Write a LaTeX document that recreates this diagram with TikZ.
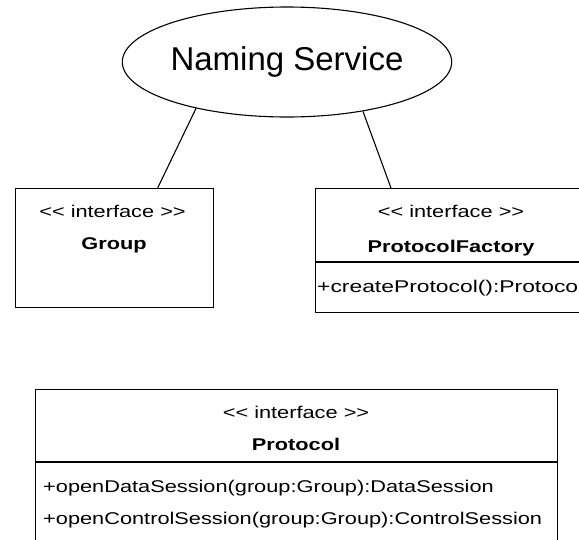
\documentclass[tikz,border=0pt]{standalone}
\usepackage{fontspec}
\setmainfont{Liberation Sans}
\newfontfamily\umlfont[FakeStretch=1.28]{Liberation Sans}
\usetikzlibrary{shapes.geometric}

\tikzset{
  x=1pt, y=-1pt,
  edge/.style={line width=1.1pt, black},
  classbox/.style={draw, line width=1.3pt, rectangle, inner sep=0pt, anchor=north west},
  stereo/.style={inner sep=0pt, font=\umlfont\fontsize{17}{20}\selectfont},
  cname/.style={inner sep=0pt, font=\umlfont\bfseries\fontsize{17}{20}\selectfont},
  oper/.style={inner sep=0pt, anchor=west, font=\umlfont\fontsize{17}{20}\selectfont},
}

\begin{document}
\begin{tikzpicture}
  \useasboundingbox (0,0) rectangle (579,539);
  \clip (0,0) rectangle (579,539);
  \fill[white] (0,0) rectangle (579,539);

  % naming service
  \node[draw, ellipse, line width=1.1pt, minimum width=316pt, minimum height=110pt,
        inner sep=0pt, font=\fontsize{33}{36}\selectfont] (ns) at (287,62) {Naming Service};

  % interface Group
  \node[classbox, minimum width=198pt, minimum height=119pt] (grp) at (15,188) {};
  \node[stereo] (grpst) at (112.5,211) {<< interface >>};
  \node[cname] (grpnm) at (114,245) {Group};

  % interface ProtocolFactory (runs past the right edge)
  \node[classbox, minimum width=290pt, minimum height=124pt] (pf) at (315,188) {};
  \node[stereo] (pfst) at (451,211) {<< interface >>};
  \node[cname] (pfnm) at (451,248) {ProtocolFactory};
  \draw[line width=1.3pt] (pf.west |- 0,262) coordinate (pfsl) -- (pf.east |- 0,262) coordinate (pfsr);
  \node[oper, xscale=1.05, anchor=west] (pfop) at (317,288) {+createProtocol():Protocol};

  % interface Protocol (runs past the bottom edge)
  \node[classbox, minimum width=522pt, minimum height=180pt] (pr) at (35,389) {};
  \node[stereo] (prst) at (296,412) {<< interface >>};
  \node[cname] (prnm) at (296,444) {Protocol};
  \draw[line width=1.3pt] (pr.west |- 0,462) coordinate (prsl) -- (pr.east |- 0,462) coordinate (prsr);
  \node[oper] (prop1) at (43,488) {+openDataSession(group:Group):DataSession};
  \node[oper] (prop2) at (43,520) {+openControlSession(group:Group):ControlSession};

  % associations to the naming service
  \draw[edge] (ns.207.6) -- ([xshift=43pt]grp.north);
  \draw[edge] (ns.327.7) -- ([xshift=76pt]pf.north west);
\end{tikzpicture}
\end{document}
